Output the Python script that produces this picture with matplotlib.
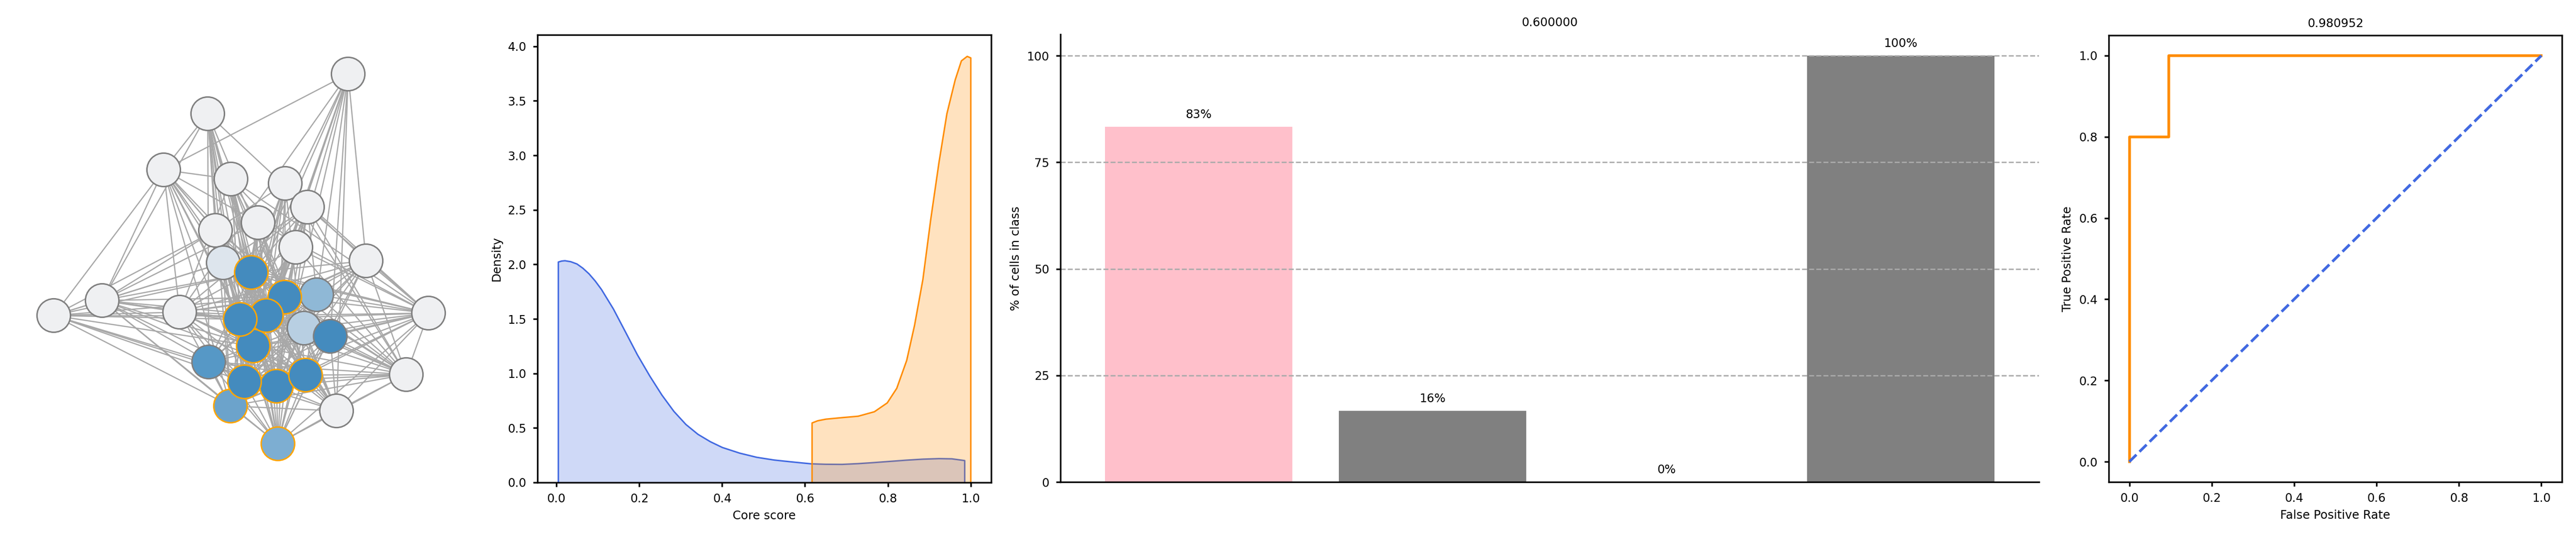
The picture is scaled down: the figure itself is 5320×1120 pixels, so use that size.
import matplotlib
matplotlib.use('Agg')
import matplotlib.pyplot as plt
from matplotlib.collections import LineCollection

# network: node positions (pixels of the left panel), in drawing order
node_id = [1, 2, 3, 4, 5, 6, 7, 8, 9, 10, 11, 12, 14, 13, 17, 18, 19, 15, 16,
           20, 22, 24, 21, 23, 25, 26, 27, 28, 29, 30, 31]
node_x = [719, 429, 338, 477, 589, 635, 533, 445, 611, 756, 461, 519, 654, 588,
          628, 682, 523, 550, 496, 431, 571, 476, 505, 631, 574, 695, 839, 885,
          371, 211, 111]
node_y = [153, 235, 351, 370, 379, 428, 460, 476, 511, 539, 543, 563, 609, 614,
          678, 695, 715, 652, 660, 748, 798, 839, 789, 775, 917, 849, 774, 647,
          645, 621, 652]
node_fill = ['#eff0f2'] * 10 + ['#dde5ed', '#448bbe', '#8fb8d6', '#448bbe',
             '#b8cfe2', '#448bbe', '#448bbe', '#448bbe', '#448bbe', '#5698c6',
             '#448bbe', '#6ca3cb', '#448bbe', '#448bbe', '#7daed2'] + ['#eff0f2'] * 6
node_ring = ['gray'] * 11 + ['orange', 'gray', 'orange', 'gray', 'gray', 'orange',
             'orange', 'orange', 'gray', 'orange', 'orange', 'orange', 'orange',
             'orange'] + ['gray'] * 6

# neighbours of each node (only the higher numbered ones)
links = {
    1: [3, 10, 12, 13, 15, 16, 18, 19, 21, 22, 23, 26, 29],
    2: [3, 6, 8, 11, 12, 13, 15, 16, 19, 20, 21, 22, 24, 30],
    3: [4, 7, 8, 11, 12, 13, 15, 16, 19, 21, 22, 24, 29, 30, 31],
    4: [7, 9, 12, 13, 15, 16, 19, 21, 22, 23, 25, 26, 28, 29],
    5: [8, 10, 12, 13, 15, 16, 19, 21, 22, 23, 24, 27, 28],
    6: [9, 11, 12, 13, 14, 15, 16, 19, 21, 22, 25, 27, 28, 29],
    7: [12, 13, 15, 16, 19, 21, 22, 23, 24, 26, 28, 30],
    8: [12, 13, 15, 16, 19, 21, 22, 23, 25, 26, 27, 30, 31],
    9: [12, 13, 15, 16, 19, 20, 21, 22, 24, 27, 28],
    10: [12, 13, 15, 16, 17, 19, 21, 22, 23, 25, 27, 28, 29],
    11: [12, 13, 15, 16, 19, 21, 22, 23, 24, 28, 30, 31],
    12: [13, 14, 15, 16, 17, 18, 19, 20, 21, 22, 23, 24, 25, 26, 27, 28, 29, 30, 31],
    13: [14, 15, 16, 17, 18, 19, 20, 21, 22, 23, 24, 25, 26, 27, 28, 29, 30, 31],
    14: [15, 16, 19, 21, 22, 23, 25, 27, 28, 29],
    15: [16, 17, 18, 19, 20, 21, 22, 23, 24, 25, 26, 27, 28, 29, 30, 31],
    16: [17, 18, 19, 20, 21, 22, 23, 24, 25, 26, 27, 28, 29, 30, 31],
    17: [19, 21, 22, 24, 25, 26, 27, 28, 30],
    18: [19, 21, 22, 23, 25, 26, 27, 28, 29],
    19: [20, 21, 22, 23, 24, 25, 26, 27, 28, 29, 30, 31],
    20: [21, 22, 23, 24, 25, 27, 28, 31],
    21: [22, 23, 24, 25, 26, 27, 28, 29, 30, 31],
    22: [23, 24, 25, 26, 27, 28, 29, 30, 31],
    23: [24, 25, 26, 27, 28, 29, 30],
    24: [25, 26, 27, 29, 30, 31],
    25: [26, 27, 28, 29, 30],
    26: [27, 28],
    27: [28],
    29: [30, 31],
    30: [31],
}

# core score densities
blue_x = [0.004, 0.012, 0.020, 0.034, 0.049, 0.063, 0.078, 0.093, 0.108, 0.137,
          0.166, 0.195, 0.225, 0.254, 0.283, 0.312, 0.341, 0.371, 0.400, 0.442,
          0.483, 0.525, 0.567, 0.615, 0.650, 0.689, 0.728, 0.767, 0.806, 0.845,
          0.884, 0.923, 0.954, 0.985]
blue_y = [2.024, 2.033, 2.036, 2.027, 2.006, 1.968, 1.916, 1.850, 1.773, 1.593,
          1.383, 1.172, 0.977, 0.804, 0.654, 0.534, 0.444, 0.376, 0.323, 0.271,
          0.233, 0.208, 0.191, 0.173, 0.169, 0.168, 0.175, 0.185, 0.196, 0.207,
          0.216, 0.221, 0.219, 0.203]
orange_x = [0.6165, 0.630, 0.650, 0.689, 0.728, 0.767, 0.798, 0.821, 0.845,
            0.864, 0.884, 0.903, 0.923, 0.942, 0.962, 0.977, 0.991, 0.9997]
orange_y = [0.548, 0.568, 0.583, 0.597, 0.610, 0.651, 0.732, 0.866, 1.122,
            1.445, 1.863, 2.415, 2.940, 3.384, 3.694, 3.869, 3.910, 3.896]

# percentage of cells per class
bar_values = [83.3, 16.7, 0.0, 100.0]
bar_text = ['83%', '16%', '0%', '100%']
bar_colors = ['pink', 'gray', 'gray', 'gray']
bar_title = '0.600000'

# roc curve
fpr = [0.0, 0.0, 0.0952, 0.0952, 1.0]
tpr = [0.0, 0.8, 0.8, 1.0, 1.0]
auc_title = '0.980952'

plt.rcParams.update({
    'font.size': 8.8,
    'axes.titlesize': 8.8,
    'axes.labelsize': 8.8,
    'xtick.labelsize': 8.8,
    'ytick.labelsize': 8.8,
    'axes.linewidth': 1.2,
    'xtick.major.width': 1.2,
    'ytick.major.width': 1.2,
    'xtick.major.size': 3.4,
    'ytick.major.size': 3.4,
    'xtick.major.pad': 4.6,
    'ytick.major.pad': 4.8,
})

W, H = 5320, 1120
fig = plt.figure(figsize=(26.6, 5.6), dpi=200)

# ---- network ----
ax0 = fig.add_axes([0, 0, 1050 / W, 1])
pos = {n: (x, y) for n, x, y in zip(node_id, node_x, node_y)}
segs = [[pos[a], pos[b]] for a in links for b in links[a]]
ax0.add_collection(LineCollection(segs, colors='#a8a8a8', linewidths=0.9, zorder=1))
ax0.scatter(node_x, node_y, s=620, c=node_fill, edgecolors=node_ring,
            linewidths=1.1, zorder=2)
ax0.set_xlim(0, 1050)
ax0.set_ylim(1120, 0)
ax0.axis('off')

# ---- density ----
ax1 = fig.add_axes([1110 / W, 1 - 997 / H, 937 / W, 925 / H])
ax1.fill_between(blue_x, 0, blue_y, facecolor=(0.255, 0.412, 0.882, 0.25),
                 edgecolor='royalblue', linewidth=1.1)
ax1.fill_between(orange_x, 0, orange_y, facecolor=(1.0, 0.549, 0.0, 0.25),
                 edgecolor='darkorange', linewidth=1.1)
ax1.set_ylim(0, None)
ax1.set_xlabel('Core score')
ax1.set_ylabel('Density')

# ---- bars ----
ax2 = fig.add_axes([2190 / W, 1 - 996 / H, 2021 / W, 925 / H])
ax2.bar(range(len(bar_values)), bar_values, color=bar_colors, width=0.8)
for i, v in enumerate(bar_values):
    ax2.text(i, v + 1.5, bar_text[i], ha='center', va='bottom')
ax2.set_yticks([0, 25, 50, 75, 100])
ax2.set_xticks([])
ax2.yaxis.grid(True, linestyle='--', color='#aaaaaa', linewidth=1.0)
ax2.spines['top'].set_visible(False)
ax2.spines['right'].set_visible(False)
ax2.set_ylabel('% of cells in class')
ax2.set_title(bar_title)

# ---- roc ----
ax3 = fig.add_axes([4355 / W, 1 - 996 / H, 936 / W, 923 / H])
ax3.plot(fpr, tpr, color='darkorange', lw=2)
ax3.plot([0, 1], [0, 1], color='royalblue', lw=2, linestyle='--')
ax3.set_xlabel('False Positive Rate')
ax3.set_ylabel('True Positive Rate')
ax3.set_title(auc_title)

fig.savefig('out.png', dpi=200)
